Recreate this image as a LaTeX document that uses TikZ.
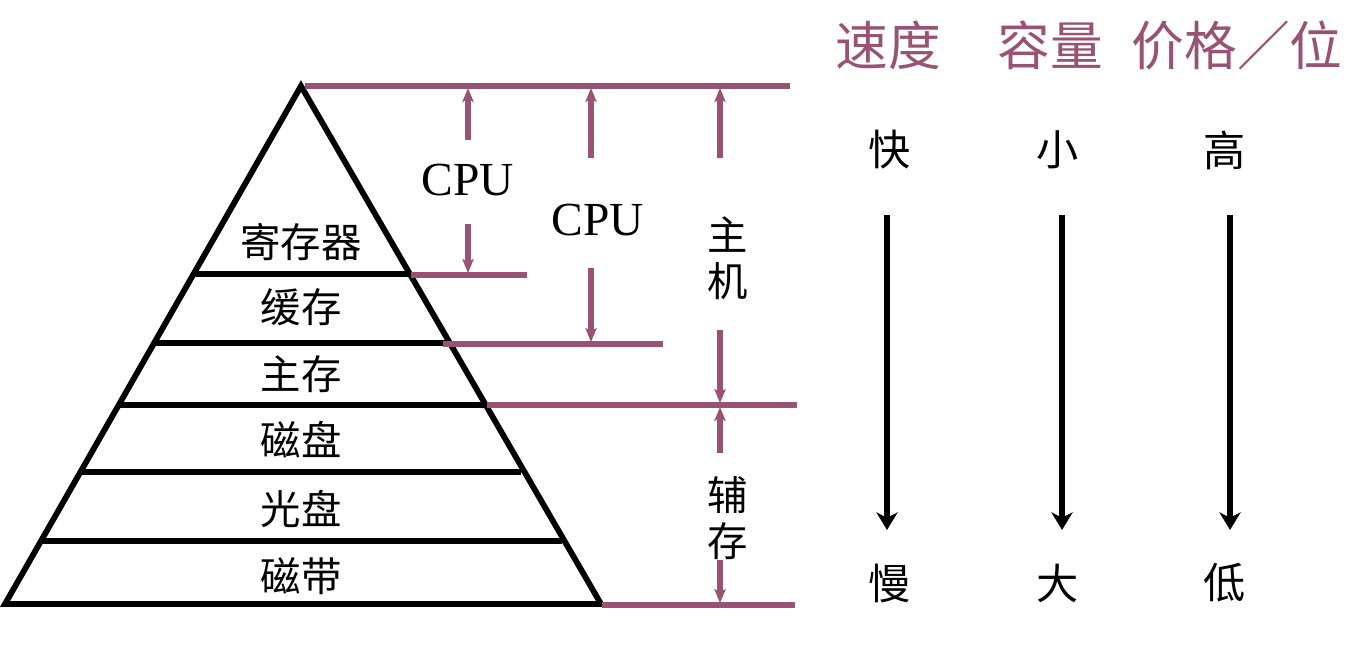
\documentclass[tikz,border=0pt]{standalone}
\usepackage{fontspec}
\setmainfont{Liberation Serif}
\newfontfamily\cjk{Noto Sans CJK SC}
\usetikzlibrary{arrows.meta}
\definecolor{plum}{RGB}{152,82,116}
\begin{document}
\begin{tikzpicture}[x=0.02cm,y=-0.02cm,
  tri/.style={line width=3.3pt,black,line join=miter},
  pline/.style={line width=3pt,plum},
  parr/.style={line width=3pt,plum,-{Stealth[length=8pt,width=6.5pt,inset=2pt]}},
  barr/.style={line width=3pt,black,-{Stealth[length=10pt,width=12pt,inset=3pt]}},
  lab/.style={font=\cjk\fontsize{23}{23}\selectfont,inner sep=0pt},
  side/.style={font=\cjk\fontsize{23}{26}\selectfont,inner sep=0pt,align=center},
  head/.style={font=\cjk\fontsize{30}{30}\selectfont,inner sep=0pt,text=plum},
  val/.style={font=\cjk\fontsize{24}{24}\selectfont,inner sep=0pt},
  cpu/.style={font=\fontsize{27}{27}\selectfont,inner sep=0pt}]
\useasboundingbox (0,0) rectangle (1351,650);
% pyramid
\coordinate (apex) at (301,86);
\coordinate (bl) at (5,604);
\coordinate (br) at (601,604);
\draw[tri] (bl) -- (apex) -- (br) -- cycle;
\coordinate (l1a) at (195,274); \coordinate (l1b) at (410,274);
\coordinate (l2a) at (155,343); \coordinate (l2b) at (448,343);
\coordinate (l3a) at (119,405); \coordinate (l3b) at (485,405);
\coordinate (l4a) at (81,472);  \coordinate (l4b) at (521,472);
\coordinate (l5a) at (41,541);  \coordinate (l5b) at (562,541);
\draw[tri] (l1a) -- (l1b);
\draw[tri] (l2a) -- (l2b);
\draw[tri] (l3a) -- (l3b);
\draw[tri] (l4a) -- (l4b);
\draw[tri] (l5a) -- (l5b);
\node[lab] (reg) at (301,242) {寄存器};
\node[lab] (cache) at (301,307) {缓存};
\node[lab] (mem) at (301,374) {主存};
\node[lab] (disk) at (301,440) {磁盘};
\node[lab] (cd) at (301,509) {光盘};
\node[lab] (tape) at (301,576) {磁带};
% purple level lines
\coordinate (t0) at (305,86);  \coordinate (t1) at (790,86);
\coordinate (c0) at (411,275); \coordinate (c1) at (527,275);
\coordinate (m0) at (443,344); \coordinate (m1) at (663,344);
\coordinate (h0) at (487,405); \coordinate (h1) at (797,405);
\coordinate (b0) at (602,605); \coordinate (b1) at (795,605);
\draw[pline] (t0) -- (t1);
\draw[pline] (c0) -- (c1);
\draw[pline] (m0) -- (m1);
\draw[pline] (h0) -- (h1);
\draw[pline] (b0) -- (b1);
% labels
\node[cpu] (cpu1) at (468,180) {CPU};
\node[cpu] (cpu2) at (598,220) {CPU};
\node[side] (host) at (728,258) {主\\机};
\node[side] (aux) at (728,518) {辅\\存};
% purple arrows
\coordinate (a1s) at (468,140); \coordinate (a1e) at (468,88);
\coordinate (a2s) at (468,224); \coordinate (a2e) at (468,273);
\coordinate (a3s) at (591,158); \coordinate (a3e) at (591,88);
\coordinate (a4s) at (591,268); \coordinate (a4e) at (591,342);
\coordinate (a5s) at (720,158); \coordinate (a5e) at (720,88);
\coordinate (a6s) at (720,330); \coordinate (a6e) at (720,403);
\coordinate (a7s) at (720,453); \coordinate (a7e) at (720,407);
\coordinate (a8s) at (720,560); \coordinate (a8e) at (720,603);
\draw[parr] (a1s) -- (a1e);
\draw[parr] (a2s) -- (a2e);
\draw[parr] (a3s) -- (a3e);
\draw[parr] (a4s) -- (a4e);
\draw[parr] (a5s) -- (a5e);
\draw[parr] (a6s) -- (a6e);
\draw[parr] (a7s) -- (a7e);
\draw[parr] (a8s) -- (a8e);
% right table
\node[head] (speed) at (888,45) {速度};
\node[head] (cap) at (1050,45) {容量};
\node[head] (price) at (1237,45) {价格／位};
\node[val] (fast) at (890,150) {快};
\node[val] (small) at (1058,150) {小};
\node[val] (high) at (1225,150) {高};
\node[val] (slow) at (890,583) {慢};
\node[val] (big) at (1058,583) {大};
\node[val] (low) at (1225,583) {低};
\coordinate (s1) at (887,215); \coordinate (e1) at (887,530);
\coordinate (s2) at (1062,215); \coordinate (e2) at (1062,530);
\coordinate (s3) at (1230,215); \coordinate (e3) at (1230,530);
\draw[barr] (s1) -- (e1);
\draw[barr] (s2) -- (e2);
\draw[barr] (s3) -- (e3);
\end{tikzpicture}
\end{document}
